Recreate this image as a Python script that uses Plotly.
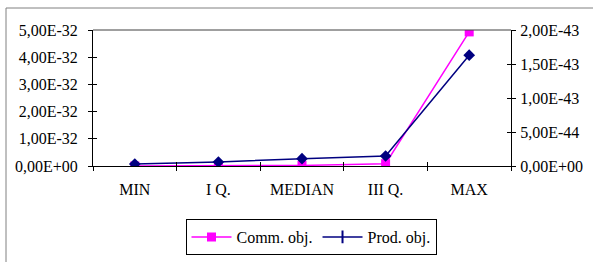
import plotly.graph_objects as go

categories = ["MIN", "I Q.", "MEDIAN", "III Q.", "MAX"]
comm_obj = [0.0, 0.0, 2.0e-34, 8.5e-34, 4.93e-32]
prod_obj = [2.9e-45, 5.9e-45, 1.07e-44, 1.47e-44, 1.63e-43]

left_ticks = [0, 1e-32, 2e-32, 3e-32, 4e-32, 5e-32]
left_text = ["0,00E+00", "1,00E-32", "2,00E-32", "3,00E-32", "4,00E-32", "5,00E-32"]
right_ticks = [0, 5e-44, 1e-43, 1.5e-43, 2e-43]
right_text = ["0,00E+00", "5,00E-44", "1,00E-43", "1,50E-43", "2,00E-43"]

PINK = "#FF00FF"
NAVY = "#000080"
FAM = "Liberation Serif"
FONT = dict(family=FAM, size=16, color="black")

fig = go.Figure()
fig.add_trace(go.Scatter(x=categories, y=comm_obj, mode="lines+markers", name="Comm. obj.",
                         line=dict(color=PINK, width=1.5),
                         marker=dict(symbol="square", size=9, color=PINK),
                         showlegend=False, yaxis="y", xaxis="x"))
fig.add_trace(go.Scatter(x=categories, y=prod_obj, mode="lines+markers", name="Prod. obj.",
                         line=dict(color=NAVY, width=1.5),
                         marker=dict(symbol="diamond", size=9, color=NAVY),
                         showlegend=False, yaxis="y2", xaxis="x"))
# legend entries
fig.add_trace(go.Scatter(x=[None], y=[None], mode="lines+markers", name="Comm. obj.",
                         line=dict(color=PINK, width=1.5),
                         marker=dict(symbol="square", size=9, color=PINK)))
fig.add_trace(go.Scatter(x=[None], y=[None], mode="lines+markers", name="Prod. obj.",
                         line=dict(color=NAVY, width=1.5),
                         marker=dict(symbol="line-ns", size=9, color=NAVY,
                                     line=dict(color=NAVY, width=2))))

W, H = 593, 262
L, R, T, B = 93, 82, 30, 96
pw, ph = W - L - R, H - T - B

def px(x):
    return (x - L) / pw

def py(y):
    return (H - B - y) / ph

tf = dict(family=FAM, size=16, color="black")

fig.update_layout(
    width=W, height=H,
    margin=dict(l=L, r=R, t=T, b=B, autoexpand=False),
    paper_bgcolor="white", plot_bgcolor="white",
    font=FONT,
    xaxis=dict(type="category", categoryorder="array", categoryarray=categories,
               range=[-0.5, 4.5], tickson="boundaries", ticks="outside", ticklen=4,
               tickcolor="black", showline=True, linecolor="black", linewidth=1,
               showgrid=False, zeroline=False, ticklabelstandoff=9, automargin=False,
               tickfont=tf),
    xaxis2=dict(type="category", categoryorder="array", categoryarray=categories,
                range=[-0.5, 4.5], tickson="boundaries", ticks="inside", ticklen=4,
                tickcolor="black", showticklabels=False, showgrid=False, zeroline=False,
                overlaying="x", matches="x", automargin=False),
    yaxis=dict(range=[0, 5e-32], tickvals=left_ticks, ticktext=left_text,
               ticks="outside", ticklen=4, tickcolor="black", showline=True,
               linecolor="black", linewidth=1, showgrid=False, zeroline=False,
               ticklabelstandoff=7, automargin=False, tickfont=tf),
    yaxis2=dict(range=[0, 2e-43], tickvals=right_ticks, ticktext=right_text,
                ticks="outside", ticklen=4, tickcolor="black", showline=True,
                linecolor="black", linewidth=1, showgrid=False, zeroline=False,
                overlaying="y", side="right", ticklabelstandoff=1, automargin=False,
                tickfont=tf),
    yaxis3=dict(range=[0, 5e-32], tickvals=left_ticks, ticks="inside", ticklen=4,
                tickcolor="black", showticklabels=False, showgrid=False, zeroline=False,
                overlaying="y", automargin=False),
    yaxis4=dict(range=[0, 2e-43], tickvals=right_ticks, ticks="inside", ticklen=4,
                tickcolor="black", showticklabels=False, showgrid=False, zeroline=False,
                overlaying="y", side="right", automargin=False),
    legend=dict(orientation="h", x=px(311), xanchor="center", y=py(219), yanchor="top",
                bordercolor="black", borderwidth=1, bgcolor="white",
                font=tf, itemwidth=40, tracegroupgap=0),
    shapes=[
        dict(type="rect", xref="paper", yref="paper", x0=px(6), y0=py(400), x1=px(700),
             y1=py(8), line=dict(color="#808080", width=1), fillcolor="rgba(0,0,0,0)",
             layer="below"),
        dict(type="line", xref="paper", yref="paper", x0=0, x1=1, y0=1, y1=1,
             line=dict(color="#404040", width=1)),
    ],
)
# dummy traces to activate the tick-only overlay axes
fig.add_trace(go.Scatter(x=[None], y=[None], xaxis="x2", yaxis="y3", showlegend=False, hoverinfo="skip"))
fig.add_trace(go.Scatter(x=[None], y=[None], xaxis="x2", yaxis="y4", showlegend=False, hoverinfo="skip"))

fig.write_html("out.html", config={"displayModeBar": False},
               post_script="document.body.style.margin='0';document.body.style.padding='0';")
